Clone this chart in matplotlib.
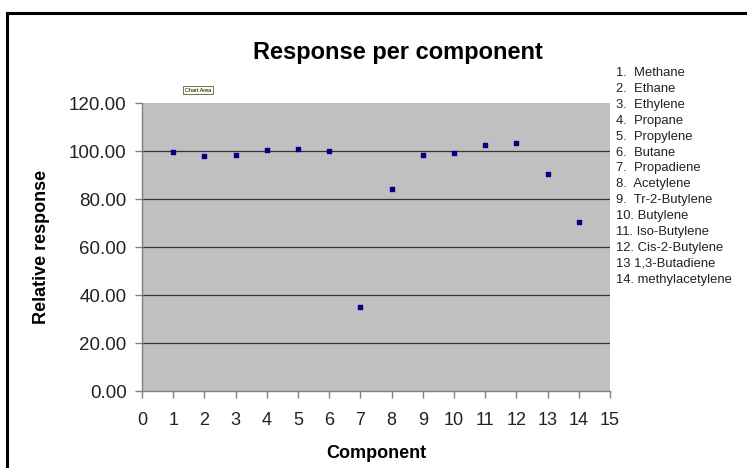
"""
Response per component - relative response of each hydrocarbon
"""

import matplotlib.pyplot as plt
from matplotlib.lines import Line2D

plt.rcParams['font.family'] = ['Liberation Sans', 'DejaVu Sans']

# data
komponente = [1, 2, 3, 4, 5, 6, 7, 8, 9, 10, 11, 12, 13, 14]
odziv = [99.7, 98.0, 98.3, 100.4, 100.8, 100.0, 34.9, 84.0, 98.5, 99.3, 102.4, 103.3, 90.4, 70.4]
nazivi = ["1.  Methane", "2.  Ethane", "3.  Ethylene", "4.  Propane", "5.  Propylene",
          "6.  Butane", "7.  Propadiene", "8.  Acetylene", "9.  Tr-2-Butylene",
          "10. Butylene", "11. Iso-Butylene", "12. Cis-2-Butylene", "13 1,3-Butadiene",
          "14. methylacetylene"]
y_ticks = [0, 20, 40, 60, 80, 100, 120]
x_ticks = list(range(0, 16))

W, H = 747, 468
fig = plt.figure(figsize=(W / 100, H / 100), dpi=100)

# outer frame (only top and left edges visible)
fig.add_artist(Line2D([6.5 / W, 1.0], [1 - 12.5 / H] * 2, color='black', lw=2.2))
fig.add_artist(Line2D([6.5 / W] * 2, [0, 1 - 12.5 / H], color='black', lw=2.2))

ax = fig.add_axes([142 / W, 1 - 391 / H, (610 - 142) / W, (391 - 103) / H])
ax.set_facecolor('#c0c0c0')
ax.scatter(komponente, odziv, marker='s', s=5, color='#000080', zorder=3)

ax.set_xlim(0, 15)
ax.set_ylim(0, 120)
ax.set_xticks(x_ticks)
ax.set_yticks(y_ticks)
ax.set_yticklabels([f"{v:.2f}" for v in y_ticks])
for v in y_ticks[1:-1]:
    ax.axhline(v, color='#333333', lw=0.9, zorder=1)

for s in ['top', 'right']:
    ax.spines[s].set_visible(False)
for s in ['left', 'bottom']:
    ax.spines[s].set_color('#808080')
    ax.spines[s].set_linewidth(1.0)
ax.tick_params(axis='both', direction='out', length=5, width=1, color='#808080',
               labelsize=13, labelcolor='#222222')
ax.tick_params(axis='y', labelsize=13.5)
ax.tick_params(axis='x', pad=10)
ax.tick_params(axis='y', pad=6)

ax.set_xlabel('Component', fontsize=13, fontweight='bold', labelpad=12)
ax.set_ylabel('Relative response', fontsize=13, fontweight='bold', labelpad=14)
fig.text(398 / W, 1 - 52 / H, 'Response per component', fontsize=17, fontweight='bold',
         ha='center', va='center')

# "Chart Area" tooltip leftover
fig.text(198 / W, 1 - 90 / H, 'Chart Area', fontsize=4, ha='center', va='center',
         bbox=dict(boxstyle='square,pad=0.3', fc='#ffffe1', ec='#555555', lw=0.6))

# component list on the right
for i, naziv in enumerate(nazivi):
    fig.text(616 / W, 1 - (73 + i * 15.9) / H, naziv, fontsize=9.4, color='#222222',
             ha='left', va='center')

plt.savefig('out.png', dpi=100)
